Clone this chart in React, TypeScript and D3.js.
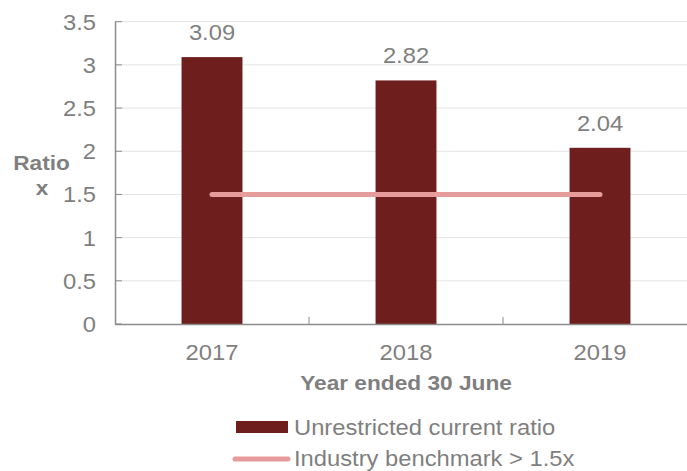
import React from "react";
import * as d3 from "d3";

const years = ["2017", "2018", "2019"];
const ratios = [3.09, 2.82, 2.04];
const benchmark = 1.5;
const yTicks = [0, 0.5, 1, 1.5, 2, 2.5, 3, 3.5];

const W = 687;
const H = 471;
const BAR = "#6E1E1D";
const BENCH = "#E59C9A";
const TXT = "#7F7F7F";
const AXIS = "#8C8C8C";
const GRID = "#E3E3E3";
const FONT = "'Liberation Sans', Arial, sans-serif";
const SX = 1.08;

function T(props: {
  x: number;
  y: number;
  anchor?: "start" | "middle" | "end";
  size?: number;
  bold?: boolean;
  children: React.ReactNode;
}) {
  const { x, y, anchor = "start", size = 22, bold = false, children } = props;
  return (
    <text
      transform={`translate(${x},${y}) scale(${SX},1)`}
      textAnchor={anchor}
      fontSize={size}
      fontWeight={bold ? "bold" : "normal"}
      fill={TXT}
    >
      {children}
    </text>
  );
}

export default function App() {
  const x = d3.scaleBand<string>().domain(years).range([115, 697]).paddingInner(0.686).paddingOuter(0.343);
  const y = d3.scaleLinear().domain([0, 3.5]).range([324, 21.7]);
  const step = x.step();
  const cx = (yr: string) => (x(yr) as number) + x.bandwidth() / 2;

  return (
    <svg width={W} height={H} style={{ position: "absolute", left: 0, top: 0, background: "#fff" }} fontFamily={FONT}>
      {yTicks.map((t) => (
        <g key={t}>
          {t > 0 && <line x1={115} x2={W} y1={y(t)} y2={y(t)} stroke={GRID} strokeWidth={1} />}
          <line x1={115} x2={122} y1={y(t)} y2={y(t)} stroke={AXIS} strokeWidth={1} />
          <T x={96} y={y(t) + 8} anchor="end">
            {t}
          </T>
        </g>
      ))}
      {years.map((yr, i) => (
        <g key={yr}>
          <rect x={x(yr)} y={y(ratios[i])} width={x.bandwidth()} height={y(0) - y(ratios[i])} fill={BAR} />
          <T x={cx(yr)} y={y(ratios[i]) - 17} anchor="middle">
            {ratios[i].toFixed(2)}
          </T>
          <T x={cx(yr)} y={360} anchor="middle">
            {yr}
          </T>
        </g>
      ))}
      {years.slice(1).map((yr) => (
        <line key={yr} x1={(x(yr) as number) - (step - x.bandwidth()) / 2} x2={(x(yr) as number) - (step - x.bandwidth()) / 2} y1={324} y2={317} stroke={AXIS} strokeWidth={1} />
      ))}
      <line x1={115.5} x2={115.5} y1={y(3.5)} y2={324} stroke={AXIS} strokeWidth={1.5} />
      <line x1={115} x2={W} y1={324.5} y2={324.5} stroke={AXIS} strokeWidth={1.5} />
      <line
        x1={cx(years[0])}
        x2={cx(years[years.length - 1])}
        y1={y(benchmark)}
        y2={y(benchmark)}
        stroke={BENCH}
        strokeWidth={5}
        strokeLinecap="round"
      />
      <T x={41.5} y={170} anchor="middle" size={21} bold>
        Ratio
      </T>
      <T x={42} y={195} anchor="middle" size={21} bold>
        x
      </T>
      <T x={406} y={390} anchor="middle" size={21} bold>
        Year ended 30 June
      </T>
      <rect x={236} y={421} width={52} height={12} fill={BAR} />
      <T x={294} y={435}>Unrestricted current ratio</T>
      <line x1={235} x2={288} y1={459} y2={459} stroke={BENCH} strokeWidth={5} strokeLinecap="round" />
      <T x={294} y={466}>Industry benchmark &gt; 1.5x</T>
    </svg>
  );
}
